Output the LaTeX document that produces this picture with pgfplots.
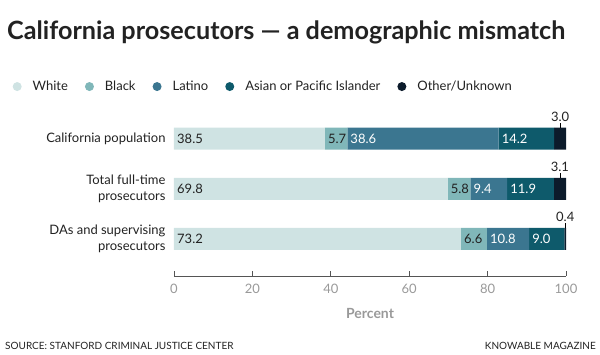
\documentclass[border=0pt]{standalone}
\usepackage{pgfplots}
\pgfplotsset{compat=1.18}
\usepackage{fontspec}
\setmainfont{Lato}
\definecolor{cWhite}{HTML}{CFE3E3}
\definecolor{cBlack}{HTML}{80B7B9}
\definecolor{cLatino}{HTML}{3B7690}
\definecolor{cAsian}{HTML}{0E5A6B}
\definecolor{cOther}{HTML}{0C1B2B}
\definecolor{ticklbl}{HTML}{999999}
\definecolor{txt}{HTML}{222222}
\definecolor{axisc}{HTML}{555555}
\pgfplotsset{
  geom/.style={at={(174pt,79pt)}, anchor=south west, scale only axis,
    width=392pt, height=162pt, xmin=0, xmax=100, ymin=0.26, ymax=3.5, clip=false},
}
\begin{document}
\begin{tikzpicture}[x=1pt,y=1pt]
\useasboundingbox (0pt,0pt) rectangle (600pt,355pt);
\node[anchor=base west, inner sep=0, font=\fontsize{25.2}{28}\selectfont\bfseries, text=txt] at (7pt,315pt) {California prosecutors — a demographic mismatch};
\node[anchor=base west, inner sep=0, font=\fontsize{10}{12}\selectfont, text=txt] at (5pt,5pt) {SOURCE: STANFORD CRIMINAL JUSTICE CENTER};
\node[anchor=base east, inner sep=0, font=\fontsize{10}{12}\selectfont, text=txt] at (596pt,5pt) {KNOWABLE MAGAZINE};
\begin{axis}[geom,
  xbar stacked, bar width=22pt,
  axis x line*=bottom, axis y line*=left,
  y axis line style={draw=none},
  x axis line style={axisc, line width=0.8pt},
  ytick={1,2,3},
  yticklabels={{DAs and supervising\\prosecutors},{Total full-time\\prosecutors},{California population}},
  yticklabel style={align=right, font=\fontsize{13}{16}\selectfont, text=txt, xshift=-5pt},
  major y tick style={draw=none},
  xtick={0,20,...,100}, xtick align=inside, major tick length=5pt,
  major x tick style={axisc, line width=0.8pt},
  xticklabel style={font=\fontsize{13}{16}\selectfont, text=ticklbl, yshift=-5pt},
  /pgf/number format/assume math mode=true,
  xlabel={Percent}, xlabel style={font=\fontsize{14}{16}\selectfont\bfseries, text=ticklbl, yshift=-7pt},
  legend columns=5,
  legend style={at={(axis description cs:-0.412,1.167)}, anchor=west, draw=none, fill=none,
    font=\fontsize{13}{16}\selectfont, text=txt, inner sep=0pt,
    /tikz/every odd column/.append style={column sep=9pt},
    /tikz/every even column/.append style={column sep=15pt}},
  legend cell align=left,
]
\addplot[fill=cWhite, draw=none, legend image code/.code={\fill[cWhite] (4.5pt,0pt) circle (4.5pt);}] coordinates {(73.2,1) (69.8,2) (38.5,3)};
\addlegendentry{White}
\addplot[fill=cBlack, draw=none, legend image code/.code={\fill[cBlack] (4.5pt,0pt) circle (4.5pt);}] coordinates {(6.6,1) (5.8,2) (5.7,3)};
\addlegendentry{Black}
\addplot[fill=cLatino, draw=none, legend image code/.code={\fill[cLatino] (4.5pt,0pt) circle (4.5pt);}] coordinates {(10.8,1) (9.4,2) (38.6,3)};
\addlegendentry{Latino}
\addplot[fill=cAsian, draw=none, legend image code/.code={\fill[cAsian] (4.5pt,0pt) circle (4.5pt);}] coordinates {(9.0,1) (11.9,2) (14.2,3)};
\addlegendentry{Asian or Pacific Islander}
\addplot[fill=cOther, draw=none, legend image code/.code={\fill[cOther] (4.5pt,0pt) circle (4.5pt);}] coordinates {(0.4,1) (3.1,2) (3.0,3)};
\addlegendentry{Other/Unknown}
\end{axis}
\begin{axis}[geom, hide axis]
\addplot[draw=none, mark=none, nodes near coords, point meta=explicit symbolic,
  nodes near coords style={anchor=west, inner sep=3pt, font=\fontsize{13}{16}\selectfont, text=txt}]
  table[meta=lbl] {
x y lbl
0 3 38.5
38.5 3 5.7
0 2 69.8
69.8 2 5.8
0 1 73.2
73.2 1 6.6
};
\addplot[draw=none, mark=none, nodes near coords, point meta=explicit symbolic,
  nodes near coords style={anchor=west, inner sep=3pt, font=\fontsize{13}{16}\selectfont, text=white}]
  table[meta=lbl] {
x y lbl
44.2 3 38.6
82.8 3 14.2
75.6 2 9.4
85.0 2 11.9
79.8 1 10.8
90.6 1 9.0
};
\addplot[black, line width=0.6pt] coordinates {(98.5,3.22) (98.5,3.32)};
\addplot[black, line width=0.6pt] coordinates {(98.45,2.22) (98.45,2.32)};
\addplot[black, line width=0.6pt] coordinates {(99.8,1.22) (99.8,1.32)};
\addplot[draw=none, mark=none, nodes near coords, point meta=explicit symbolic,
  nodes near coords style={anchor=south, inner sep=1pt, font=\fontsize{13}{16}\selectfont, text=txt}]
  table[meta=lbl] {
x y lbl
98.5 3.32 3.0
98.45 2.32 3.1
99.8 1.32 0.4
};
\end{axis}
\end{tikzpicture}
\end{document}
